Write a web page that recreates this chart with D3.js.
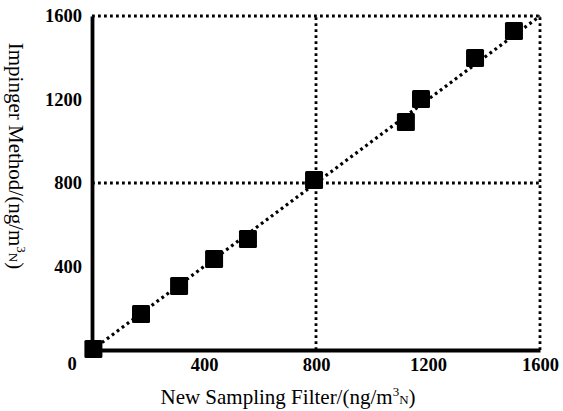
<!DOCTYPE html>
<html><head><meta charset="utf-8">
<script src="https://cdn.jsdelivr.net/npm/d3@7"></script>
<style>
html,body{margin:0;padding:0;background:#fff;}
svg{display:block;}
</style></head>
<body>
<svg id="c" width="563" height="411"></svg>
<script>
// Data
const filterVals = [5, 175, 311, 436, 557, 793, 1121, 1175, 1368, 1507];
const impingerVals = [5, 172, 307, 436, 532, 814, 1092, 1202, 1399, 1528];
const xTicks = [400, 800, 1200, 1600];
const yTicks = [400, 800, 1200, 1600];
const gridVals = [800, 1600];
const fitX = [0, 1600];
const fitY = [0, 1600];

(function () {
const FONT = "'Liberation Serif', 'Times New Roman', Times, serif";
const svg = d3.select("#c");
const mL = 92, mR = 540, mT = 16, mB = 350;
const x = d3.scaleLinear().domain([0, 1600]).range([mL, mR]);
const y = d3.scaleLinear().domain([0, 1600]).range([mB, mT]);

const dot = "2.8,3.2";
// dotted grid / frame
const g = svg.append("g");
gridVals.forEach(v => {
  g.append("line").attr("x1", x(v)).attr("x2", x(v)).attr("y1", y(0)).attr("y2", y(1600))
    .attr("stroke", "#000").attr("stroke-width", 2.8).attr("stroke-dasharray", dot);
  g.append("line").attr("x1", x(0)).attr("x2", x(1600)).attr("y1", y(v)).attr("y2", y(v))
    .attr("stroke", "#000").attr("stroke-width", 2.8).attr("stroke-dasharray", dot);
});

// axes
const fmt = d3.format("d");
const xAxis = d3.axisBottom(x).tickValues(xTicks).tickFormat(fmt).tickSize(0).tickPadding(8);
const yAxis = d3.axisLeft(y).tickValues(yTicks).tickFormat(fmt).tickSize(0).tickPadding(9);
const gx = svg.append("g").attr("transform", `translate(0,${mB})`).call(xAxis);
const gy = svg.append("g").attr("transform", `translate(${mL},0)`).call(yAxis);
[gx, gy].forEach(a => {
  a.attr("font-family", null).attr("font-size", null);
  a.select(".domain").attr("stroke", "#000").attr("stroke-width", 3.8);
  a.selectAll("text").style("font-family", FONT).style("font-weight", "bold")
    .style("font-size", "18.5px").attr("fill", "#000");
});
gx.selectAll(".tick text").attr("dy", "0.72em");
gy.selectAll(".tick text").attr("dx", "-0.05em");
// shared origin label
svg.append("text").attr("x", 72).attr("y", 370).attr("text-anchor", "middle")
  .style("font-family", FONT).style("font-weight", "bold").style("font-size", "18.5px").text("0");

// fit line
const line = d3.line().x(d => x(d[0])).y(d => y(d[1]));
svg.append("path").datum(d3.zip(fitX, fitY)).attr("d", line)
  .attr("fill", "none").attr("stroke", "#000").attr("stroke-width", 3.2)
  .attr("stroke-dasharray", "2.8,3.4");

// markers
const ms = 18;
svg.append("g").selectAll("rect").data(d3.zip(filterVals, impingerVals)).join("rect")
  .attr("x", d => x(d[0]) - ms / 2).attr("y", d => y(d[1]) - ms / 2)
  .attr("width", ms).attr("height", ms).attr("rx", 1.5).attr("fill", "#000");

// titles
const xt = svg.append("text").attr("x", 288).attr("y", 404).attr("text-anchor", "middle")
  .style("font-family", FONT).style("font-size", "21px");
xt.append("tspan").text("New Sampling Filter/(ng/m");
xt.append("tspan").attr("dy", -8).style("font-size", "13px").text("3");
xt.append("tspan").attr("dy", 8).style("font-size", "13px").text("N");
xt.append("tspan").text(")");

const yt = svg.append("text").attr("transform", "translate(9,156) rotate(90)")
  .attr("text-anchor", "middle").style("font-family", FONT).style("font-size", "21px");
yt.append("tspan").text("Impinger Method/(ng/m");
yt.append("tspan").attr("dy", -8).style("font-size", "13px").text("3");
yt.append("tspan").attr("dy", 8).style("font-size", "13px").text("N");
yt.append("tspan").text(")");
})();
</script>
</body></html>
